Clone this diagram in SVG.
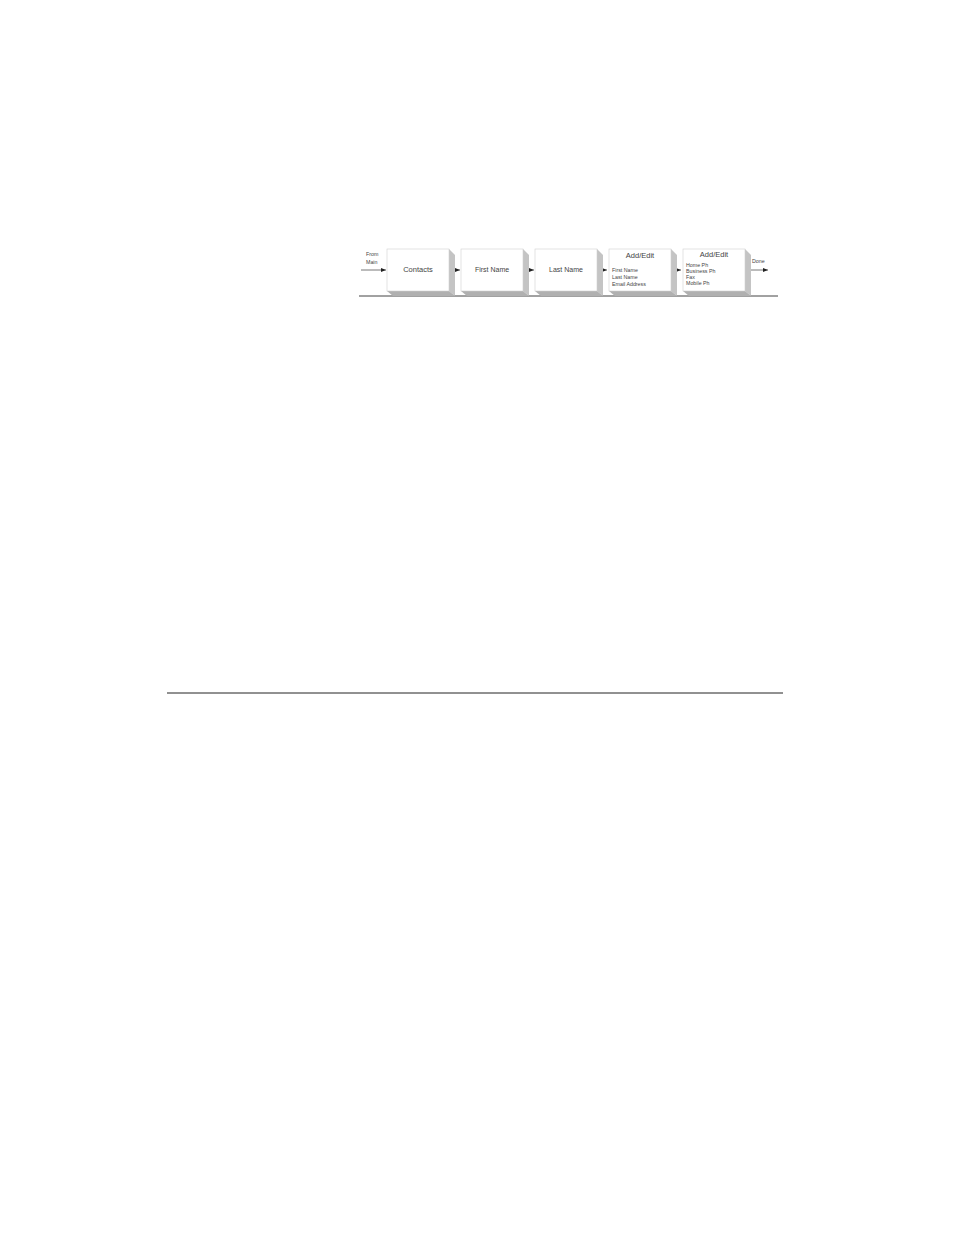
<svg xmlns="http://www.w3.org/2000/svg" width="954" height="1235" viewBox="0 0 954 1235">
<style>
.box{fill:#ffffff;stroke:#d0d0d0;stroke-width:0.6}
.side{fill:#c4c4c4}
.bot{fill:#b0b0b0}
.t{font-family:"Liberation Sans",Arial,sans-serif;fill:#444;text-anchor:middle}
.s{font-family:"Liberation Sans",Arial,sans-serif;fill:#444;font-size:5.3px}
.c{stroke:#555;stroke-width:0.8;fill:none}
</style>
<defs>
<marker id="ah" markerWidth="6" markerHeight="6" refX="5" refY="3" orient="auto" markerUnits="userSpaceOnUse">
<path d="M0,1 L5,3 L0,5 Z" fill="#222"/>
</marker>
</defs>
<rect width="954" height="1235" fill="#fff"/>
<line x1="359" y1="296" x2="778" y2="296" stroke="#444" stroke-width="1"/>
<line x1="167" y1="693" x2="783" y2="693" stroke="#222" stroke-width="1"/>
<g id="connectors">
<path class="c" d="M361,270 H386" marker-end="url(#ah)"/>
<path class="c" d="M455,270 H460" marker-end="url(#ah)"/>
<path class="c" d="M529,270 H534" marker-end="url(#ah)"/>
<path class="c" d="M603,270 H607" marker-end="url(#ah)"/>
<path class="c" d="M677,270 H681" marker-end="url(#ah)"/>
<path class="c" d="M751,270 H768" marker-end="url(#ah)"/>
<text class="s" x="366" y="256" font-size="6">From</text>
<text class="s" x="366" y="264" font-size="6">Main</text>
<text class="s" x="752" y="263" font-size="6.5">Done</text>
</g>
<g id="n1">
<polygon class="side" points="449,249 455,255 455,296 449,291"/>
<polygon class="bot" points="387,291 449,291 455,296 393,296"/>
<rect class="box" x="387" y="249" width="62" height="42"/>
<text class="t" x="418" y="272" font-size="7.5">Contacts</text>
</g>
<g id="n2">
<polygon class="side" points="523,249 529,255 529,296 523,291"/>
<polygon class="bot" points="461,291 523,291 529,296 467,296"/>
<rect class="box" x="461" y="249" width="62" height="42"/>
<text class="t" x="492" y="272" font-size="7">First Name</text>
</g>
<g id="n3">
<polygon class="side" points="597,249 603,255 603,296 597,291"/>
<polygon class="bot" points="535,291 597,291 603,296 541,296"/>
<rect class="box" x="535" y="249" width="62" height="42"/>
<text class="t" x="566" y="272" font-size="7">Last Name</text>
</g>
<g id="n4">
<polygon class="side" points="671,249 677,255 677,296 671,291"/>
<polygon class="bot" points="609,291 671,291 677,296 615,296"/>
<rect class="box" x="609" y="249" width="62" height="42"/>
<text class="t" x="640" y="258" font-size="7.5">Add/Edit</text>
<text class="s" x="612" y="272">First Name</text>
<text class="s" x="612" y="279">Last Name</text>
<text class="s" x="612" y="286">Email Address</text>
</g>
<g id="n5">
<polygon class="side" points="745,249 751,255 751,296 745,291"/>
<polygon class="bot" points="683,291 745,291 751,296 689,296"/>
<rect class="box" x="683" y="249" width="62" height="42"/>
<text class="t" x="714" y="257" font-size="7.5">Add/Edit</text>
<text class="s" x="686" y="267" font-size="4.8">Home Ph</text>
<text class="s" x="686" y="273" font-size="4.8">Business Ph</text>
<text class="s" x="686" y="279" font-size="4.8">Fax</text>
<text class="s" x="686" y="285" font-size="4.8">Mobile Ph</text>
</g>
</svg>
